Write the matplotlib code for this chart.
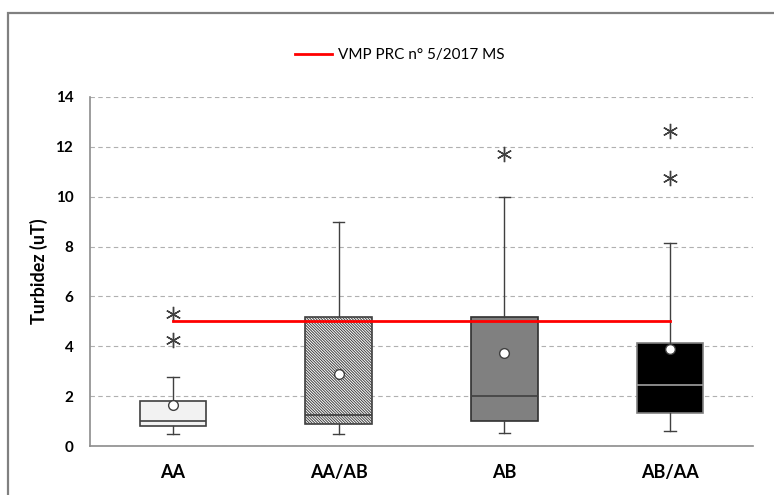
import matplotlib.pyplot as plt
from matplotlib.patches import Rectangle

# Data
categories = ['AA', 'AA/AB', 'AB', 'AB/AA']
whisker_low = [0.49, 0.49, 0.51, 0.61]
q1 = [0.80, 0.87, 1.02, 1.31]
median = [1.01, 1.26, 2.00, 2.45]
q3 = [1.82, 5.16, 5.16, 4.14]
whisker_high = [2.77, 9.00, 10.00, 8.16]
mean = [1.64, 2.90, 3.74, 3.88]
outliers = [[5.30, 4.25], [], [11.70], [12.64, 10.76]]
vmp_limit = 5.0
vmp_label = 'VMP PRC n° 5/2017 MS'

plt.rcParams['font.family'] = ['Lato', 'DejaVu Sans']
plt.rcParams['hatch.linewidth'] = 0.7

fig = plt.figure(figsize=(7.74, 4.95), dpi=100)
ax = fig.add_axes([90 / 774, 49 / 495, 663 / 774, 349 / 495])

positions = [i + 0.5 for i in range(len(categories))]
stats = []
for i, name in enumerate(categories):
    stats.append({'label': name, 'whislo': whisker_low[i], 'q1': q1[i], 'med': median[i],
                  'q3': q3[i], 'whishi': whisker_high[i], 'mean': mean[i], 'fliers': outliers[i]})

bp = ax.bxp(stats, positions=positions, widths=0.4, capwidths=0.07, patch_artist=True,
            showmeans=True, meanline=False, showfliers=True,
            boxprops=dict(linewidth=1.2, edgecolor='#404040'),
            medianprops=dict(color='#404040', linewidth=1.2),
            whiskerprops=dict(color='#404040', linewidth=1.0),
            capprops=dict(color='#404040', linewidth=1.0),
            meanprops=dict(marker='o', markerfacecolor='white', markeredgecolor='#404040',
                           markersize=7, markeredgewidth=1.0),
            flierprops=dict(marker=(6, 2, 0), markersize=11, markeredgecolor='#404040',
                            markeredgewidth=1.0, linestyle='none'))

fills = ['#f2f2f2', 'white', '#808080', 'black']
hatches = ['', '\\' * 12, '', '']
edges = ['#404040', '#404040', '#303030', '#808080']
for box, fc, h, ec in zip(bp['boxes'], fills, hatches, edges):
    box.set_facecolor(fc)
    box.set_hatch(h)
    box.set_edgecolor(ec)
bp['medians'][3].set_color('#a0a0a0')

# VMP reference line
ax.plot([positions[0], positions[-1]], [vmp_limit, vmp_limit], color='#ff0000', linewidth=2,
        label=vmp_label, zorder=5)

ax.set_xlim(0, 4)
ax.set_ylim(0, 14)
ax.set_yticks(range(0, 15, 2))
ax.set_xticks(positions)
ax.set_xticklabels(categories, fontsize=13, fontweight='bold')
ax.tick_params(axis='x', length=0, pad=13)
ax.tick_params(axis='y', length=0, pad=12, labelsize=11)
for lbl in ax.get_yticklabels():
    lbl.set_fontweight('bold')
ax.set_ylabel('Turbidez (uT)', fontsize=13, fontweight='bold')
ax.yaxis.set_label_coords(-42 / 663, 0.5)

ax.yaxis.grid(True, linestyle=(0, (4, 3)), color='#b0b0b0', linewidth=0.8)
ax.set_axisbelow(True)
for s in ['top', 'right']:
    ax.spines[s].set_visible(False)
for s in ['left', 'bottom']:
    ax.spines[s].set_color('#8c8c8c')
    ax.spines[s].set_linewidth(1.2)

fig.legend(loc='center', bbox_to_anchor=(400 / 774, 1 - 55 / 495), frameon=False,
           fontsize=11, handlelength=2.4, handletextpad=0.4)

# outer chart frame
fig.patches.append(Rectangle((8 / 774, -0.1), 1.2, 1.1 - 13 / 495, transform=fig.transFigure,
                             fill=False, edgecolor='#808080', linewidth=1.6))

fig.savefig('out.png', dpi=100)
